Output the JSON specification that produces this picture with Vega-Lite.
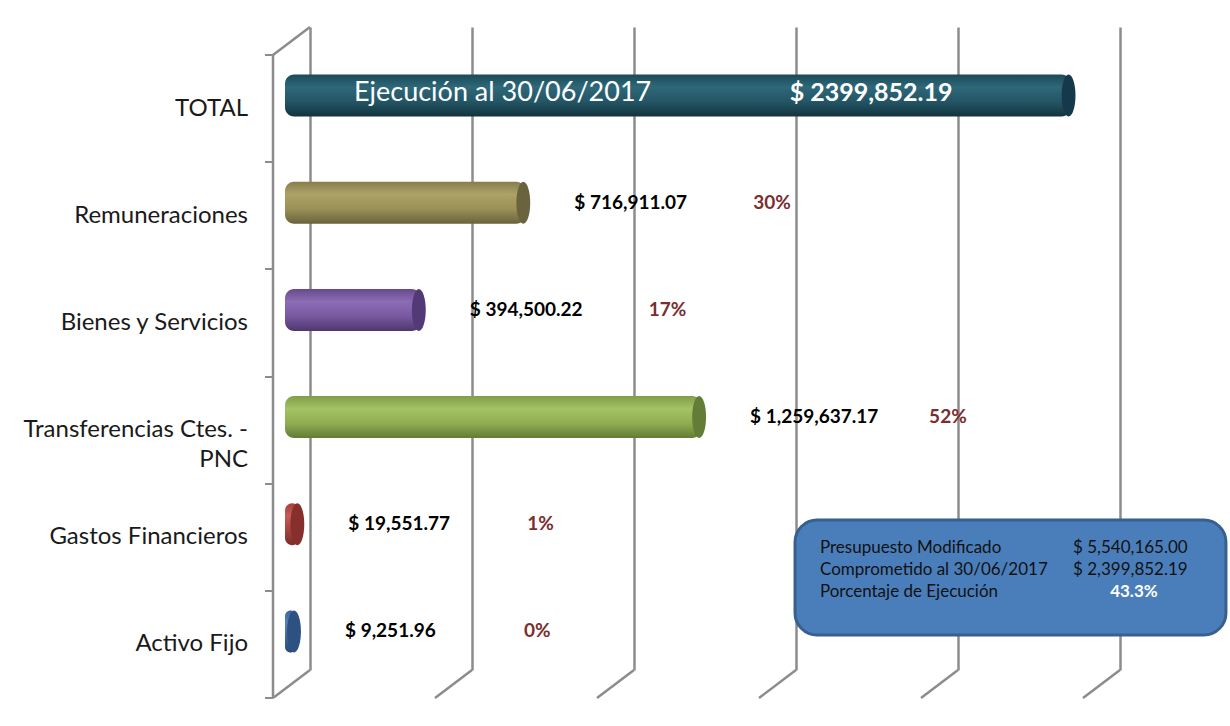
{
  "$schema": "https://vega.github.io/schema/vega-lite/v6.json",
  "width": 810,
  "height": 643,
  "autosize": {"type": "none"},
  "padding": {"left": 310, "top": 27, "right": 110, "bottom": 56},
  "background": "white",
  "config": {"view": {"stroke": null}, "font": "Lato", "axis": {"labelFont": "Lato"}},
  "datasets": {
    "rubros": [
      {"rubro": "TOTAL", "monto": 2399852.19, "etiqueta": "$ 2399,852.19", "pct": "", "nota": "Ejecución al 30/06/2017"},
      {"rubro": "Remuneraciones", "monto": 716911.07, "etiqueta": "$ 716,911.07", "pct": "30%", "nota": ""},
      {"rubro": "Bienes y Servicios", "monto": 394500.22, "etiqueta": "$ 394,500.22", "pct": "17%", "nota": ""},
      {"rubro": "Transferencias Ctes. - PNC", "monto": 1259637.17, "etiqueta": "$ 1,259,637.17", "pct": "52%", "nota": ""},
      {"rubro": "Gastos Financieros", "monto": 19551.77, "etiqueta": "$ 19,551.77", "pct": "1%", "nota": ""},
      {"rubro": "Activo Fijo", "monto": 9251.96, "etiqueta": "$ 9,251.96", "pct": "0%", "nota": ""}
    ],
    "grid": [{"v": 0}, {"v": 500000}, {"v": 1000000}, {"v": 1500000}, {"v": 2000000}, {"v": 2500000}],
    "resumen": [
      {"concepto": "Presupuesto Modificado", "monto": "$ 5,540,165.00"},
      {"concepto": "Comprometido al 30/06/2017", "monto": "$ 2,399,852.19"},
      {"concepto": "Porcentaje de Ejecución", "monto": "43.3%"}
    ]
  },
  "resolve": {"scale": {"y": "independent"}, "axis": {"y": "independent"}},
  "layer": [
    {
      "data": {"name": "rubros"},
      "layer": [
        {
          "data": {"name": "grid"},
          "mark": {"type": "rule", "color": "#8c8c8c", "strokeWidth": 2.5, "x2Offset": -37, "y2Offset": 28},
          "encoding": {
            "x": {"field": "v", "type": "quantitative", "title": null},
            "x2": {"field": "v"},
            "y": {"value": "height"},
            "y2": {"value": "height"}
          }
        },
        {
          "data": {"values": [{"v": 0}]},
          "mark": {"type": "rule", "color": "#8c8c8c", "strokeWidth": 2.5, "xOffset": -37, "yOffset": 28},
          "encoding": {
            "x": {"field": "v", "type": "quantitative", "title": null},
            "x2": {"field": "v"},
            "y": {"value": 0},
            "y2": {"value": 0}
          }
        },
        {
          "transform": [{"filter": "datum.rubro == 'TOTAL'"}],
          "mark": {"type": "bar", "size": 42, "cornerRadius": 9, "xOffset": -17, "x2Offset": -25, "yOffset": 15,
            "color": {"gradient": "linear", "x1": 0, "y1": 0, "x2": 0, "y2": 1,
              "stops": [{"offset": 0, "color": "#1b4a58"}, {"offset": 0.3, "color": "#2e6879"}, {"offset": 0.65, "color": "#235565"}, {"offset": 1, "color": "#12333d"}]}},
          "encoding": {
            "x": {"field": "monto", "type": "quantitative", "title": null,
              "scale": {"domain": [0, 2500000], "nice": false},
              "axis": {"values": [0, 500000, 1000000, 1500000, 2000000, 2500000], "grid": true, "gridColor": "#8c8c8c", "gridWidth": 2.5, "labels": false, "ticks": false, "domain": false, "title": null}},
            "x2": {"datum": 0},
            "y": {"field": "rubro", "type": "nominal", "title": null,
              "scale": {"domain": ["TOTAL", "Remuneraciones", "Bienes y Servicios", "Transferencias Ctes. - PNC", "Gastos Financieros", "Activo Fijo"], "paddingInner": 0, "paddingOuter": 0},
              "axis": {"title": null, "orient": "left", "offset": 65, "translate": 28, "tickBand": "extent", "tickSize": 8, "tickWidth": 2, "tickColor": "#8c8c8c", "domainColor": "#8c8c8c", "domainWidth": 2.5, "labelPadding": 17, "labelFontSize": 24, "labelColor": "#1a1a1a", "labelLimit": 400, "labelLineHeight": 30,
                "labelExpr": "datum.value == 'Transferencias Ctes. - PNC' ? ['Transferencias Ctes. -', 'PNC'] : datum.label"}}
          }
        },
        {
          "transform": [{"filter": "datum.rubro == 'Remuneraciones'"}],
          "mark": {"type": "bar", "size": 42, "cornerRadius": 9, "xOffset": -17, "x2Offset": -25, "yOffset": 15,
            "color": {"gradient": "linear", "x1": 0, "y1": 0, "x2": 0, "y2": 1,
              "stops": [{"offset": 0, "color": "#877d4c"}, {"offset": 0.3, "color": "#ada368"}, {"offset": 0.65, "color": "#9a9058"}, {"offset": 1, "color": "#6a623c"}]}},
          "encoding": {"x": {"field": "monto", "type": "quantitative", "title": null}, "x2": {"datum": 0}, "y": {"field": "rubro", "type": "nominal", "title": null}}
        },
        {
          "transform": [{"filter": "datum.rubro == 'Bienes y Servicios'"}],
          "mark": {"type": "bar", "size": 42, "cornerRadius": 9, "xOffset": -17, "x2Offset": -25, "yOffset": 15,
            "color": {"gradient": "linear", "x1": 0, "y1": 0, "x2": 0, "y2": 1,
              "stops": [{"offset": 0, "color": "#674a8c"}, {"offset": 0.3, "color": "#8b6cb5"}, {"offset": 0.65, "color": "#7859a1"}, {"offset": 1, "color": "#4f376e"}]}},
          "encoding": {"x": {"field": "monto", "type": "quantitative", "title": null}, "x2": {"datum": 0}, "y": {"field": "rubro", "type": "nominal", "title": null}}
        },
        {
          "transform": [{"filter": "datum.rubro == 'Transferencias Ctes. - PNC'"}],
          "mark": {"type": "bar", "size": 42, "cornerRadius": 9, "xOffset": -17, "x2Offset": -25, "yOffset": 15,
            "color": {"gradient": "linear", "x1": 0, "y1": 0, "x2": 0, "y2": 1,
              "stops": [{"offset": 0, "color": "#809e47"}, {"offset": 0.3, "color": "#a4c365"}, {"offset": 0.65, "color": "#8fad50"}, {"offset": 1, "color": "#627b36"}]}},
          "encoding": {"x": {"field": "monto", "type": "quantitative", "title": null}, "x2": {"datum": 0}, "y": {"field": "rubro", "type": "nominal", "title": null}}
        },
        {
          "transform": [{"filter": "datum.rubro == 'Gastos Financieros'"}],
          "mark": {"type": "bar", "size": 42, "cornerRadius": 9, "xOffset": -17, "x2Offset": -25, "yOffset": 15,
            "color": {"gradient": "linear", "x1": 0, "y1": 0, "x2": 0, "y2": 1,
              "stops": [{"offset": 0, "color": "#a53f3c"}, {"offset": 0.3, "color": "#c65b58"}, {"offset": 1, "color": "#7c2b29"}]}},
          "encoding": {"x": {"field": "monto", "type": "quantitative", "title": null}, "x2": {"datum": 0}, "y": {"field": "rubro", "type": "nominal", "title": null}}
        },
        {
          "transform": [{"filter": "datum.rubro == 'Activo Fijo'"}],
          "mark": {"type": "bar", "size": 42, "cornerRadius": 9, "xOffset": -17, "x2Offset": -25, "yOffset": 15,
            "color": {"gradient": "linear", "x1": 0, "y1": 0, "x2": 0, "y2": 1,
              "stops": [{"offset": 0, "color": "#3c6698"}, {"offset": 0.3, "color": "#5283bf"}, {"offset": 1, "color": "#2a4a72"}]}},
          "encoding": {"x": {"field": "monto", "type": "quantitative", "title": null}, "x2": {"datum": 0}, "y": {"field": "rubro", "type": "nominal", "title": null}}
        },
        {
          "mark": {"type": "point", "shape": "M0,-1A0.33,1 0 1,1 0,1A0.33,1 0 1,1 0,-1Z", "size": 1764, "filled": true, "opacity": 1, "strokeWidth": 0, "xOffset": -19, "yOffset": 15},
          "encoding": {
            "x": {"field": "monto", "type": "quantitative", "title": null},
            "y": {"field": "rubro", "type": "nominal", "title": null},
            "color": {"field": "rubro", "type": "nominal", "legend": null,
              "scale": {"domain": ["TOTAL", "Remuneraciones", "Bienes y Servicios", "Transferencias Ctes. - PNC", "Gastos Financieros", "Activo Fijo"],
                "range": ["#15394a", "#6b633d", "#533a76", "#637c37", "#862f2d", "#2d5182"]}}
          }
        },
        {
          "transform": [{"filter": "datum.rubro != 'TOTAL'"}],
          "mark": {"type": "text", "align": "left", "baseline": "middle", "dx": 32, "yOffset": 15, "fontSize": 19, "fontWeight": "bold", "color": "#000000"},
          "encoding": {
            "x": {"field": "monto", "type": "quantitative", "title": null},
            "y": {"field": "rubro", "type": "nominal", "title": null},
            "text": {"field": "etiqueta"}
          }
        },
        {
          "transform": [{"filter": "datum.rubro != 'TOTAL'"}],
          "mark": {"type": "text", "align": "left", "baseline": "middle", "dx": 211, "yOffset": 15, "fontSize": 19, "fontWeight": "bold", "color": "#7a2e2e"},
          "encoding": {
            "x": {"field": "monto", "type": "quantitative", "title": null},
            "y": {"field": "rubro", "type": "nominal", "title": null},
            "text": {"field": "pct"}
          }
        },
        {
          "transform": [{"filter": "datum.rubro == 'TOTAL'"}],
          "mark": {"type": "text", "align": "left", "baseline": "middle", "dx": 44, "yOffset": 12, "fontSize": 27, "color": "#ffffff"},
          "encoding": {
            "x": {"datum": 0, "type": "quantitative"},
            "y": {"field": "rubro", "type": "nominal", "title": null},
            "text": {"field": "nota"}
          }
        },
        {
          "transform": [{"filter": "datum.rubro == 'TOTAL'"}],
          "mark": {"type": "text", "align": "right", "baseline": "middle", "dx": -135, "yOffset": 12, "fontSize": 25, "fontWeight": "bold", "color": "#ffffff"},
          "encoding": {
            "x": {"field": "monto", "type": "quantitative", "title": null},
            "y": {"field": "rubro", "type": "nominal", "title": null},
            "text": {"field": "etiqueta"}
          }
        }
      ]
    },
    {
      "data": {"name": "resumen"},
      "layer": [
        {
          "transform": [{"filter": "datum.concepto == 'Presupuesto Modificado'"}],
          "mark": {"type": "rect", "fill": "#4a7ebb", "stroke": "#37608f", "strokeWidth": 3, "cornerRadius": 22, "yOffset": -28, "y2Offset": 43},
          "encoding": {
            "x": {"datum": 1497000, "type": "quantitative"},
            "x2": {"datum": 2827000},
            "y": {"datum": "Presupuesto Modificado", "type": "nominal",
              "scale": {"type": "point", "padding": 0, "domain": ["Presupuesto Modificado", "Comprometido al 30/06/2017", "Porcentaje de Ejecución"], "range": [521, 565]},
              "axis": null},
            "y2": {"datum": "Porcentaje de Ejecución"}
          }
        },
        {
          "mark": {"type": "text", "align": "left", "baseline": "middle", "fontSize": 17, "color": "#111111"},
          "encoding": {
            "x": {"datum": 1574000, "type": "quantitative"},
            "y": {"field": "concepto", "type": "nominal", "axis": null},
            "text": {"field": "concepto"}
          }
        },
        {
          "transform": [{"filter": "datum.concepto != 'Porcentaje de Ejecución'"}],
          "mark": {"type": "text", "align": "left", "baseline": "middle", "fontSize": 17, "color": "#111111"},
          "encoding": {
            "x": {"datum": 2355000, "type": "quantitative"},
            "y": {"field": "concepto", "type": "nominal", "axis": null},
            "text": {"field": "monto"}
          }
        },
        {
          "transform": [{"filter": "datum.concepto == 'Porcentaje de Ejecución'"}],
          "mark": {"type": "text", "align": "center", "baseline": "middle", "fontSize": 17, "fontWeight": "bold", "color": "#ffffff"},
          "encoding": {
            "x": {"datum": 2543000, "type": "quantitative"},
            "y": {"field": "concepto", "type": "nominal", "axis": null},
            "text": {"field": "monto"}
          }
        }
      ]
    }
  ]
}
